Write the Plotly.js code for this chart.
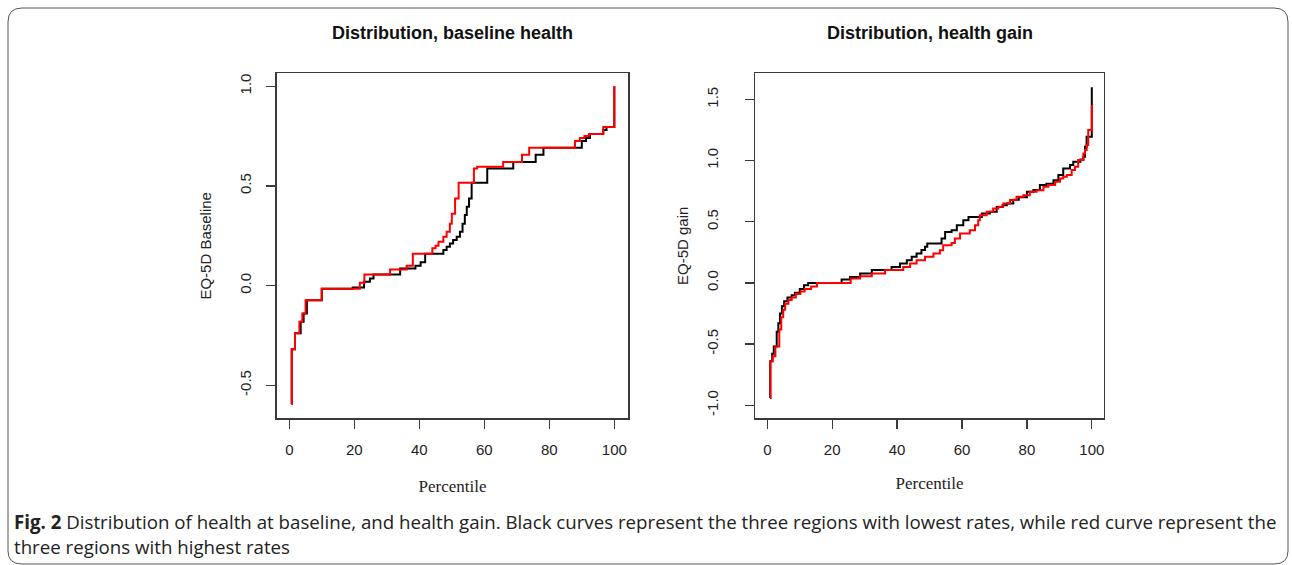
<!DOCTYPE html>
<html>
<head>
<meta charset="utf-8">
<script src="https://cdn.plot.ly/plotly-3.0.1.min.js"></script>
<style>
  html, body { margin: 0; padding: 0; background: #fff; }
  #chart { width: 1292px; height: 565px; }
</style>
</head>
<body>
<div id="chart"></div>
<script>
// ---- Data (percentile, EQ-5D value), step curves ----
const baseLowPct = [0.7, 0.75, 1.75, 3.5, 4.4, 5.4, 10.0, 19.5, 23.0, 24.8, 25.9, 34.1, 38.8, 40.4, 41.8, 47.4, 48.4, 49.4, 50.4, 51.5, 52.5, 53.3, 54.0, 54.6, 55.3, 56.1, 60.9, 68.9, 75.8, 78.2, 90.0, 91.3, 92.5, 96.6, 97.6, 100];
const baseLowVal = [-0.594, -0.319, -0.239, -0.181, -0.14, -0.074, -0.016, -0.01, 0.019, 0.036, 0.055, 0.086, 0.1, 0.117, 0.159, 0.178, 0.195, 0.211, 0.228, 0.245, 0.27, 0.31, 0.354, 0.396, 0.437, 0.516, 0.587, 0.62, 0.656, 0.691, 0.725, 0.74, 0.76, 0.78, 0.796, 1.0];

const baseHighPct = [0.7, 0.75, 1.75, 3.1, 4.0, 5.0, 9.96, 21.7, 23.1, 31.0, 36.1, 38.0, 44.0, 45.0, 45.9, 47.4, 48.4, 49.4, 50.0, 51.0, 52.1, 56.8, 57.8, 65.8, 71.6, 73.8, 87.9, 89.4, 90.8, 92.2, 96.6, 100];
const baseHighVal = [-0.594, -0.319, -0.239, -0.181, -0.14, -0.074, -0.016, 0.014, 0.055, 0.08, 0.1, 0.159, 0.187, 0.2, 0.22, 0.245, 0.27, 0.31, 0.36, 0.437, 0.516, 0.587, 0.596, 0.62, 0.656, 0.691, 0.725, 0.74, 0.75, 0.76, 0.796, 1.0];

const gainLowPct = [0.8, 0.9, 1.5, 2.0, 2.9, 3.4, 3.9, 4.5, 5.2, 6.2, 7.5, 8.5, 10.0, 11.3, 12.6, 22.9, 25.5, 28.6, 32.2, 38.3, 40.9, 43.0, 44.5, 46.0, 47.5, 48.6, 49.3, 53.7, 54.8, 56.8, 58.4, 60.4, 62.0, 66.1, 68.6, 70.7, 72.5, 73.8, 75.8, 77.5, 80.0, 82.0, 84.0, 86.0, 88.2, 89.7, 91.2, 93.3, 94.3, 96.5, 97.4, 97.9, 98.4, 100];
const gainLowVal = [-0.94, -0.64, -0.58, -0.52, -0.40, -0.33, -0.25, -0.19, -0.15, -0.12, -0.10, -0.08, -0.05, -0.02, 0.0, 0.027, 0.049, 0.077, 0.106, 0.13, 0.158, 0.185, 0.213, 0.24, 0.27, 0.295, 0.322, 0.363, 0.417, 0.431, 0.472, 0.513, 0.54, 0.567, 0.581, 0.62, 0.636, 0.649, 0.68, 0.70, 0.745, 0.76, 0.80, 0.81, 0.84, 0.882, 0.936, 0.964, 0.99, 1.01, 1.032, 1.114, 1.195, 1.599];

const gainHighPct = [0.9, 1.0, 1.7, 2.5, 3.7, 4.3, 4.9, 5.5, 6.5, 7.5, 8.8, 10.2, 11.5, 13.5, 15.3, 25.7, 28.6, 32.2, 36.3, 41.9, 44.0, 46.0, 48.6, 51.2, 53.2, 54.2, 56.8, 57.8, 59.4, 62.4, 64.0, 65.0, 65.5, 67.6, 69.6, 71.2, 72.7, 74.8, 76.8, 78.9, 80.9, 83.0, 85.1, 86.6, 88.7, 90.2, 91.2, 92.3, 93.8, 94.8, 95.8, 97.4, 97.9, 98.4, 98.9, 100];
const gainHighVal = [-0.94, -0.64, -0.60, -0.52, -0.38, -0.28, -0.22, -0.17, -0.14, -0.12, -0.09, -0.07, -0.05, -0.03, 0.0, 0.036, 0.055, 0.077, 0.106, 0.131, 0.158, 0.186, 0.213, 0.24, 0.267, 0.308, 0.327, 0.363, 0.404, 0.431, 0.472, 0.513, 0.554, 0.581, 0.608, 0.622, 0.649, 0.677, 0.704, 0.717, 0.745, 0.758, 0.786, 0.80, 0.827, 0.854, 0.868, 0.882, 0.923, 0.95, 1.005, 1.059, 1.087, 1.128, 1.25, 1.454];

const xTickVals = [0, 20, 40, 60, 80, 100];
const xTickText = ['0', '20', '40', '60', '80', '100'];
const yTickValsBase = [-0.5, 0.0, 0.5, 1.0];
const yTickTextBase = ['-0.5', '0.0', '0.5', '1.0'];
const yTickValsGain = [-1.0, -0.5, 0.0, 0.5, 1.0, 1.5];
const yTickTextGain = ['-1.0', '-0.5', '0.0', '0.5', '1.0', '1.5'];

const panelTitles = ['Distribution, baseline health', 'Distribution, health gain'];
const xTitle = 'Percentile';
const yTitles = ['EQ-5D Baseline', 'EQ-5D gain'];
const captionLine1 = '<b>Fig. 2</b> Distribution of health at baseline, and health gain. Black curves represent the three regions with lowest rates, while red curve represent the';
const captionLine2 = 'three regions with highest rates';

// ---- Figure ----
const W = 1292, H = 565;
const px = v => v / W;
const py = v => (H - v) / H;

function stepTrace(x, y, color, xa, ya) {
  return { x: x, y: y, type: 'scatter', mode: 'lines', line: { shape: 'hv', color: color, width: 2 },
           xaxis: xa, yaxis: ya, hoverinfo: 'skip', showlegend: false };
}

const traces = [
  stepTrace(baseLowPct, baseLowVal, '#000000', 'x', 'y'),
  stepTrace(baseHighPct, baseHighVal, '#ff0000', 'x', 'y'),
  stepTrace(gainLowPct, gainLowVal, '#000000', 'x2', 'y2'),
  stepTrace(gainHighPct, gainHighVal, '#ff0000', 'x2', 'y2')
];

const axisCommon = {
  showgrid: false, zeroline: false, showline: true, mirror: true,
  linecolor: '#3a3a3a', linewidth: 1.3, ticks: 'outside', ticklen: 9, tickwidth: 1.3, tickcolor: '#3a3a3a',
  tickfont: { family: 'Liberation Sans, Arial, sans-serif', size: 15, color: '#222' },
  fixedrange: true
};
const yDomain = [py(418.3), py(73.3)];

const layout = {
  width: W, height: H,
  margin: { l: 0, r: 0, t: 0, b: 0 },
  paper_bgcolor: '#fff', plot_bgcolor: '#fff',
  showlegend: false,
  xaxis: Object.assign({}, axisCommon, {
    domain: [px(276.7), px(628.3)], range: [-3.88, 104.3], tickvals: xTickVals, ticktext: xTickText,
    ticklabelstandoff: 8, anchor: 'y',
    title: { text: xTitle, font: { family: 'Liberation Serif, Times New Roman, serif', size: 17, color: '#222' }, standoff: 23 }
  }),
  yaxis: Object.assign({}, axisCommon, {
    domain: yDomain, range: [-0.666, 1.065], tickvals: yTickValsBase, ticktext: yTickTextBase,
    tickangle: -90, ticklabelstandoff: 9, anchor: 'x',
    title: { text: yTitles[0], font: { family: 'Liberation Sans, Arial, sans-serif', size: 15, color: '#222' }, standoff: 22 }
  }),
  xaxis2: Object.assign({}, axisCommon, {
    domain: [px(755), px(1104)], range: [-3.79, 103.76], tickvals: xTickVals, ticktext: xTickText,
    ticklabelstandoff: 8, anchor: 'y2',
    title: { text: xTitle, font: { family: 'Liberation Serif, Times New Roman, serif', size: 17, color: '#222' }, standoff: 20 }
  }),
  yaxis2: Object.assign({}, axisCommon, {
    domain: yDomain, range: [-1.107, 1.714], tickvals: yTickValsGain, ticktext: yTickTextGain,
    tickangle: -90, ticklabelstandoff: 21, anchor: 'x2',
    title: { text: yTitles[1], font: { family: 'Liberation Sans, Arial, sans-serif', size: 15, color: '#222' }, standoff: 11 }
  }),
  annotations: [
    { text: '<b>' + panelTitles[0] + '</b>', xref: 'paper', yref: 'paper', x: px(452), y: py(33), xanchor: 'center', yanchor: 'middle',
      showarrow: false, font: { family: 'Liberation Sans, Arial, sans-serif', size: 18, color: '#111' } },
    { text: '<b>' + panelTitles[1] + '</b>', xref: 'paper', yref: 'paper', x: px(929.5), y: py(33), xanchor: 'center', yanchor: 'middle',
      showarrow: false, font: { family: 'Liberation Sans, Arial, sans-serif', size: 18, color: '#111' } },
    { text: captionLine1, xref: 'paper', yref: 'paper', x: px(12), y: py(521), xanchor: 'left', yanchor: 'middle',
      showarrow: false, font: { family: 'Open Sans, sans-serif', size: 18.7, color: '#222' } },
    { text: captionLine2, xref: 'paper', yref: 'paper', x: px(12), y: py(546), xanchor: 'left', yanchor: 'middle',
      showarrow: false, font: { family: 'Open Sans, sans-serif', size: 18.7, color: '#222' } }
  ],
  shapes: [
    { type: 'path', xref: 'paper', yref: 'paper',
      path: 'M ' + px(8) + ',' + py(22) + ' Q ' + px(8) + ',' + py(8) + ' ' + px(22) + ',' + py(8) +
            ' L ' + px(1274) + ',' + py(8) + ' Q ' + px(1288) + ',' + py(8) + ' ' + px(1288) + ',' + py(22) +
            ' L ' + px(1288) + ',' + py(551) + ' Q ' + px(1288) + ',' + py(564) + ' ' + px(1274) + ',' + py(564) +
            ' L ' + px(22) + ',' + py(564) + ' Q ' + px(8) + ',' + py(564) + ' ' + px(8) + ',' + py(551) + ' Z',
      line: { color: '#555', width: 1 } }
  ]
};

Plotly.newPlot('chart', traces, layout, { displayModeBar: false, staticPlot: true });
</script>
</body>
</html>
